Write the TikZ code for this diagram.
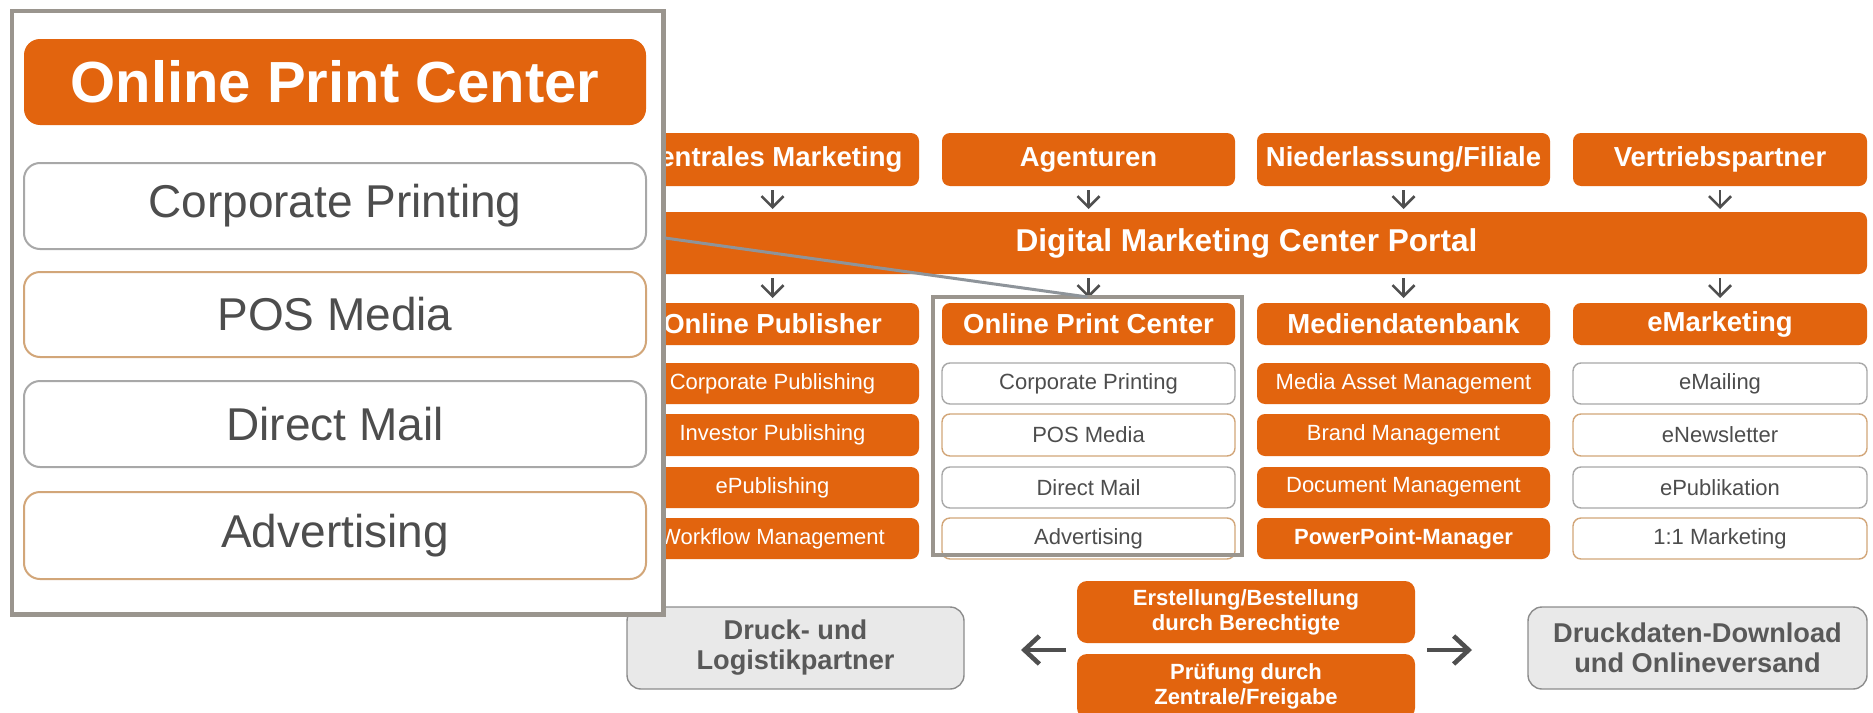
\documentclass[tikz,border=0pt]{standalone}
\usepackage{fontspec}
\setmainfont{Liberation Sans}
\usetikzlibrary{arrows.meta}
\definecolor{org}{HTML}{E2640E}
\definecolor{bordgray}{HTML}{A8A8A8}
\definecolor{bordtan}{HTML}{D2A679}
\definecolor{boxgray}{HTML}{E9E9E9}
\definecolor{bordgray2}{HTML}{8C8C8C}
\definecolor{txtgray}{HTML}{4D4D4D}
\definecolor{txtgray2}{HTML}{595959}
\definecolor{framegray}{HTML}{9A958E}
\definecolor{linegray}{HTML}{8E949A}
\definecolor{arrgray}{HTML}{4F4F4F}
\newcommand\mybox[7]{\node[#2, minimum width={(#5-#3)*0.5pt}, minimum height={(#6-#4)*0.5pt}] (#1) at ({(#3+#5)/2},{(#4+#6)/2}) {#7};}
\tikzset{
  base/.style={rectangle, inner sep=0pt, outer sep=0pt, align=center},
  obox/.style={base, fill=org, rounded corners=4pt, text=white, font=\bfseries\fontsize{13.75}{16}\selectfont},
  pbox/.style={obox, font=\bfseries\fontsize{15.8}{18}\selectfont},
  osub/.style={base, fill=org, rounded corners=4pt, text=white, font=\fontsize{11}{13}\selectfont},
  osubb/.style={osub, font=\bfseries\fontsize{11}{13}\selectfont},
  wsubg/.style={base, fill=white, draw=bordgray, line width=0.7pt, rounded corners=4pt, text=txtgray, font=\fontsize{11}{13}\selectfont},
  wsubt/.style={wsubg, draw=bordtan},
  obot/.style={base, fill=org, rounded corners=5pt, text=white, font=\bfseries\fontsize{11}{12.5}\selectfont},
  gbox/.style={base, fill=boxgray, draw=bordgray2, line width=0.7pt, rounded corners=7pt, text=txtgray2, font=\bfseries\fontsize{13.6}{15}\selectfont},
  bighead/.style={obox, rounded corners=8pt, font=\bfseries\fontsize{29}{33}\selectfont},
  bigsubg/.style={wsubg, line width=1pt, rounded corners=8pt, font=\fontsize{23}{27}\selectfont},
  bigsubt/.style={bigsubg, draw=bordtan},
  framebox/.style={base, draw=framegray, line width=2.4pt},
  sarr/.style={draw=arrgray, line width=1.3pt, -{Straight Barb[length=5.5pt, width=11pt]}},
  barr/.style={draw=arrgray, line width=2.3pt, -{Straight Barb[length=7.5pt, width=14pt]}},
  zline/.style={draw=linegray, line width=1.5pt}
}
\begin{document}
\begin{tikzpicture}[x=0.5pt,y=-0.5pt]
\useasboundingbox (0,0) rectangle (1873,712);
\fill[white] (0,0) rectangle (1873,712);
% top row
\mybox{zm}{obox}{626}{133}{919}{186}{Zentrales Marketing}
\mybox{ag}{obox}{942}{133}{1235}{186}{Agenturen}
\mybox{nf}{obox}{1257}{133}{1550}{186}{Niederlassung/Filiale}
\mybox{vp}{obox}{1573}{133}{1867}{186}{Vertriebspartner}
% portal
\mybox{portal}{pbox}{626}{212}{1867}{274}{Digital Marketing Center Portal}
% headers
\mybox{op}{obox}{626}{303}{919}{345}{Online Publisher}
\mybox{opc}{obox}{942}{303}{1235}{345}{Online Print Center}
\mybox{mdb}{obox}{1257}{303}{1550}{345}{Mediendatenbank}
\mybox{em}{obox}{1573}{303}{1867}{345}{eMarketing}
% column 1
\mybox{a1}{osub}{626}{363}{919}{404}{Corporate Publishing}
\mybox{a2}{osub}{626}{414}{919}{456}{Investor Publishing}
\mybox{a3}{osub}{626}{467}{919}{508}{ePublishing}
\mybox{a4}{osub}{626}{518}{919}{559}{Workflow Management}
% column 2
\mybox{b1}{wsubg}{942}{363}{1235}{404}{Corporate Printing}
\mybox{b2}{wsubt}{942}{414}{1235}{456}{POS Media}
\mybox{b3}{wsubg}{942}{467}{1235}{508}{Direct Mail}
\mybox{b4}{wsubt}{942}{518}{1235}{559}{Advertising}
% column 3
\mybox{c1}{osub}{1257}{363}{1550}{404}{Media Asset Management}
\mybox{c2}{osub}{1257}{414}{1550}{456}{Brand Management}
\mybox{c3}{osub}{1257}{467}{1550}{508}{Document Management}
\mybox{c4}{osubb}{1257}{518}{1550}{559}{PowerPoint-Manager}
% column 4
\mybox{d1}{wsubg}{1573}{363}{1867}{404}{eMailing}
\mybox{d2}{wsubt}{1573}{414}{1867}{456}{eNewsletter}
\mybox{d3}{wsubg}{1573}{467}{1867}{508}{ePublikation}
\mybox{d4}{wsubt}{1573}{518}{1867}{559}{1:1 Marketing}
% small arrows
\foreach \n in {zm,ag,nf,vp}{
  \draw[sarr, shorten <=2pt, shorten >=1.5pt] (\n.south) -- (\n.south |- portal.north);
}
\foreach \n in {op,opc,mdb,em}{
  \draw[sarr, shorten <=2pt, shorten >=2.5pt] (\n.north |- portal.south) -- (\n.north);
}
% small frame
\mybox{sframe}{framebox}{933}{297}{1242}{555}{}
% bottom
\mybox{druck}{gbox}{627}{607}{964}{689}{Druck- und\\Logistikpartner}
\mybox{dl}{gbox}{1528}{607}{1867}{689}{Druckdaten-Download\\und Onlineversand}
\mybox{erst}{obot}{1077}{581}{1415}{643}{Erstellung/Bestellung\\durch Berechtigte}
\mybox{pruef}{obot}{1077}{654}{1415}{718}{Prüfung durch\\Zentrale/Freigabe}
\draw[barr, shorten <=5.5pt, shorten >=28.5pt] ([yshift=-1pt]erst.west |- druck.east) -- ([yshift=-1pt]druck.east);
\draw[barr, shorten <=6pt, shorten >=28pt] ([yshift=-1pt]erst.east |- dl.west) -- ([yshift=-1pt]dl.west);
% big magnifier frame
\mybox{bframe}{framebox, fill=white}{12}{11}{663.5}{614.5}{}
\mybox{bh}{bighead}{24}{39}{646}{125}{Online Print Center}
\mybox{bb1}{bigsubg}{24}{163}{646}{249}{Corporate Printing}
\mybox{bb2}{bigsubt}{24}{272}{646}{357}{POS Media}
\mybox{bb3}{bigsubg}{24}{381}{646}{467}{Direct Mail}
\mybox{bb4}{bigsubt}{24}{492}{646}{579}{Advertising}
% connector line
\coordinate (zsrc) at (665,238);
\draw[zline] (zsrc) -- (sframe.north);
\end{tikzpicture}
\end{document}
